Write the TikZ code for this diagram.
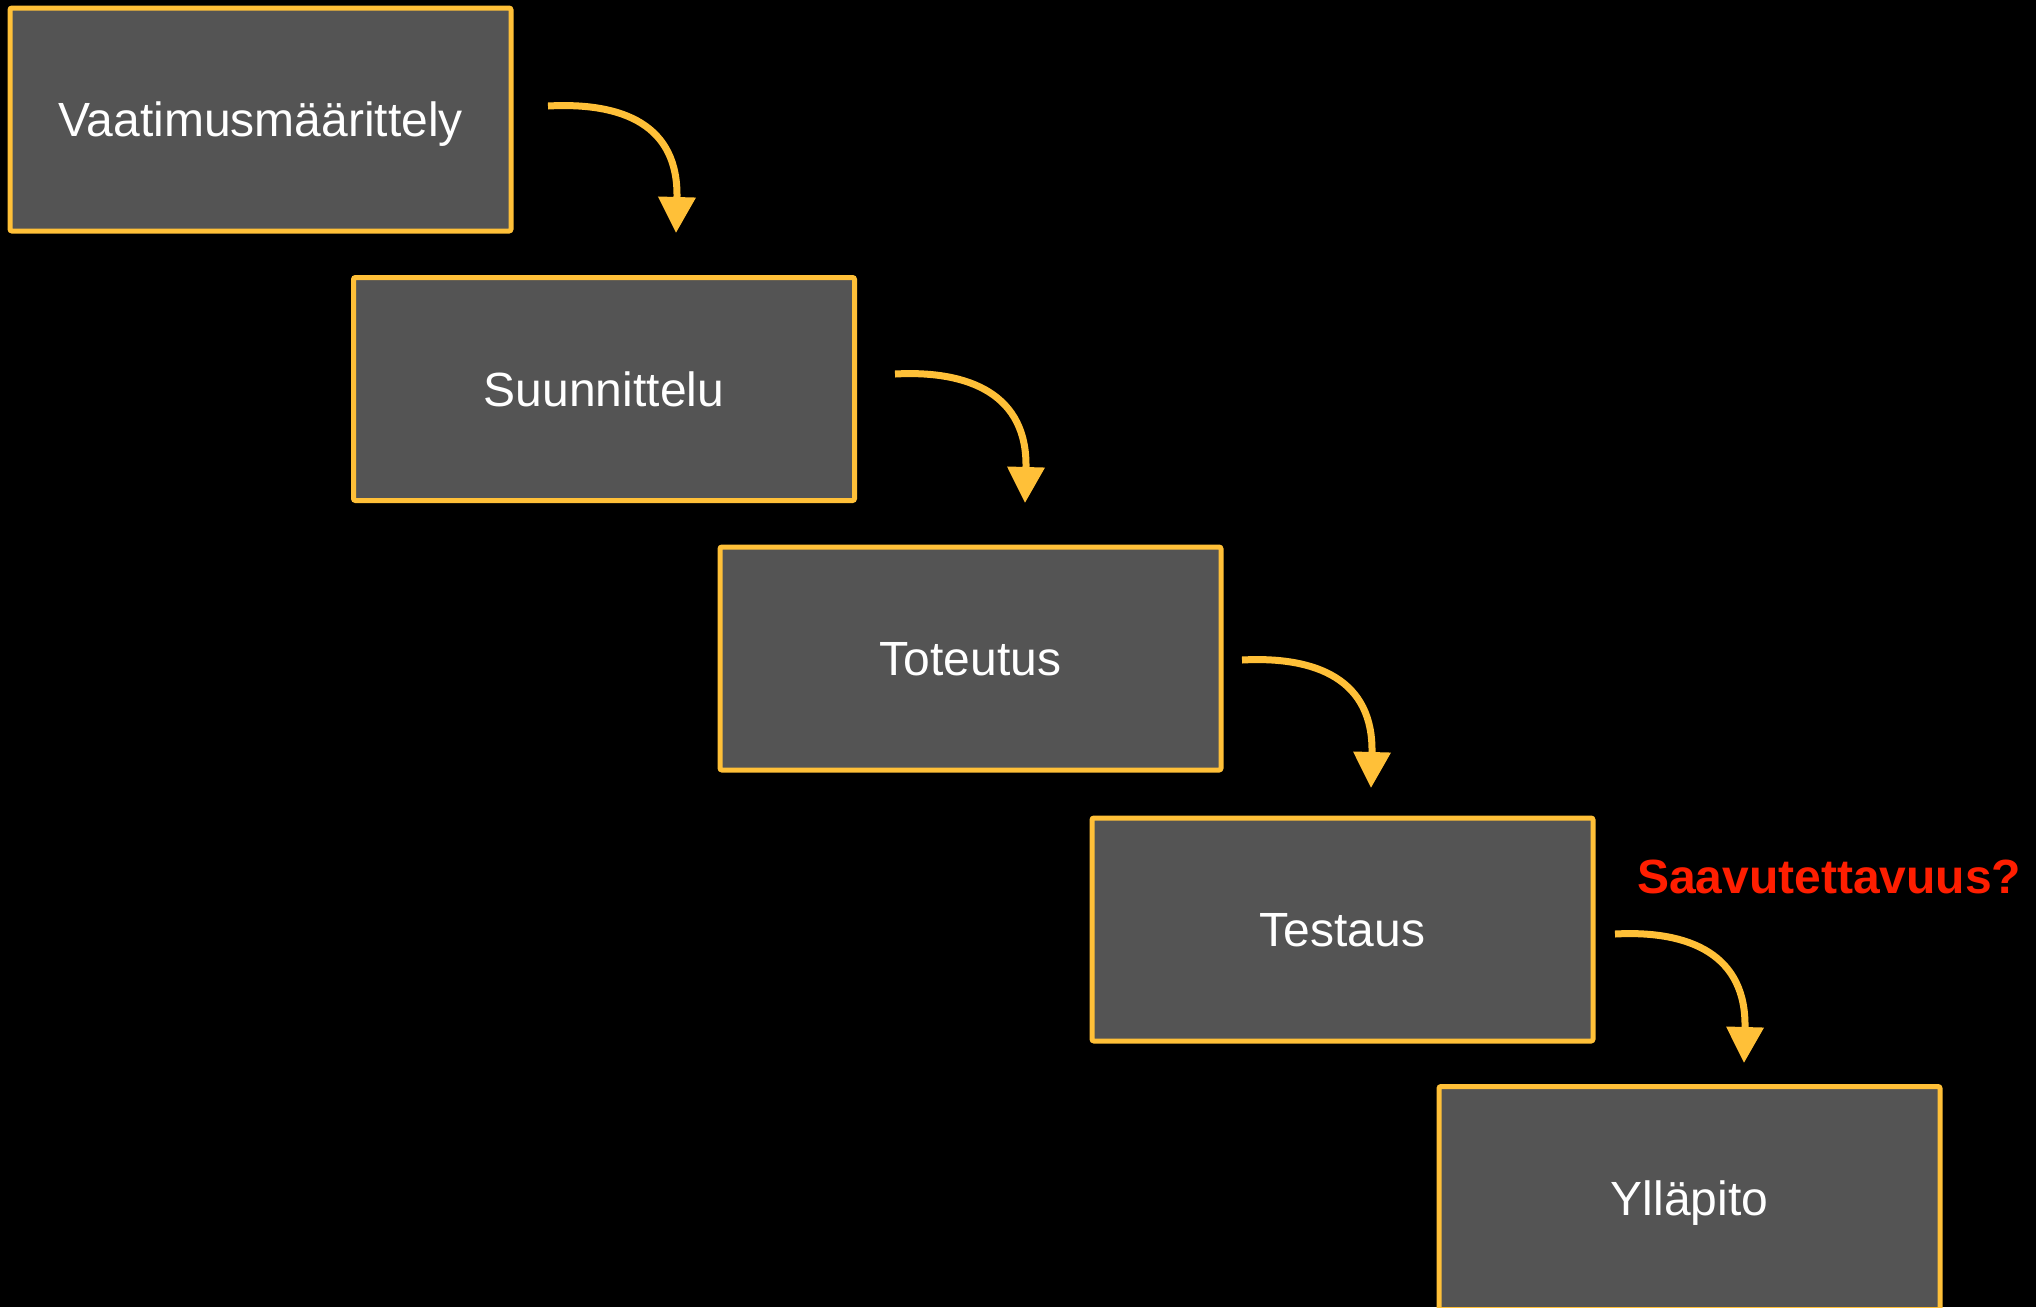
\documentclass[tikz,border=0pt]{standalone}
\usepackage{fontspec}
\setmainfont{Liberation Sans}
\usetikzlibrary{arrows.meta}
\definecolor{boxfill}{RGB}{84,84,84}
\definecolor{gold}{RGB}{255,192,56}
\definecolor{alertred}{RGB}{255,30,0}
\begin{document}
\begin{tikzpicture}[x=1pt,y=-1pt,
  phase/.style={draw=gold, line width=5pt, fill=boxfill, rounded corners=2pt,
    minimum width=501pt, minimum height=223pt, inner sep=0pt, text=white,
    font=\fontsize{48}{58}\selectfont, text height=34.4pt, text depth=0pt},
  flow/.style={draw=gold, line width=7pt, -{Triangle[length=36pt,width=36pt]}},
  note/.style={text=alertred, font=\bfseries\fontsize{48}{58}\selectfont, inner sep=0pt}]
\fill[black] (0,0) rectangle (2036,1307);
\useasboundingbox (0,0) rectangle (2036,1307);
\node[phase] (vaat) at (260.5,119.5) {Vaatimusmäärittely};
\node[phase] (suun) at (604,389) {Suunnittelu};
\node[phase] (tote) at (970.5,658.5) {Toteutus};
\node[phase] (test) at (1342.5,929.5) {Testaus};
\node[phase] (yllp) at (1689.5,1198) {Ylläpito};
\node[note, anchor=base west] (saav) at (1637,893) {Saavutettavuus?};
\coordinate (a1s) at (548,106);  \coordinate (a1e) at (676,233);
\coordinate (a2s) at (895,374);  \coordinate (a2e) at (1025,503);
\coordinate (a3s) at (1242,660); \coordinate (a3e) at (1371,788);
\coordinate (a4s) at (1615,934); \coordinate (a4e) at (1744,1063);
\foreach \s/\e in {a1s/a1e,a2s/a2e,a3s/a3e,a4s/a4e}{
  \draw[flow] (\s) .. controls ([shift={(75,-4)}]\s) and ([shift={(3,-108)}]\e) .. (\e);
}
\end{tikzpicture}
\end{document}
